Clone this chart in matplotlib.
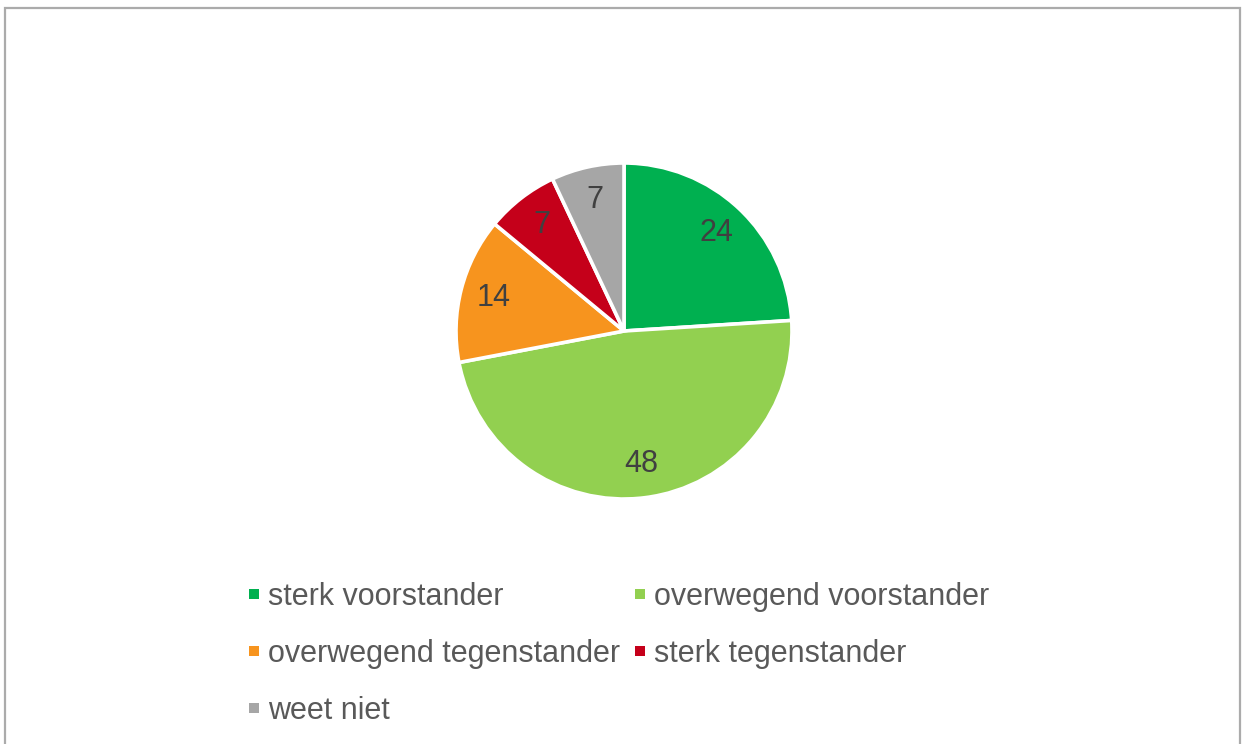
import matplotlib.pyplot as plt
from matplotlib.lines import Line2D
from matplotlib.patches import Rectangle

# data
categories = ["sterk voorstander", "overwegend voorstander",
              "overwegend tegenstander", "sterk tegenstander", "weet niet"]
values = [24, 48, 14, 7, 7]
colors = ["#00B050", "#92D050", "#F7941E", "#C5001A", "#A6A6A6"]

plt.rcParams['font.family'] = ['Liberation Sans', 'DejaVu Sans']

W, H = 1242, 744
fig = plt.figure(figsize=(W / 100, H / 100), dpi=100)

# chart border
fig.patches.append(Rectangle((4.5 / W, -0.05), (1240 - 4.5) / W, 1.05 - 8 / H,
                             transform=fig.transFigure, fill=False,
                             edgecolor="#ABABAB", linewidth=1.6))

# pie: center (624, 331), radius 168 px
cx, cy, r = 624, 331, 168
ax = fig.add_axes([(cx - r) / W, (H - cy - r) / H, 2 * r / W, 2 * r / H])
wedges, texts = ax.pie(values, colors=colors, startangle=90, counterclock=False,
                       labels=[str(v) for v in values], labeldistance=0.8,
                       wedgeprops=dict(edgecolor="white", linewidth=2.6),
                       textprops=dict(color="#404040", fontsize=22))
for t in texts:
    t.set_horizontalalignment("center")
    t.set_verticalalignment("center")
ax.set_xlim(-1, 1)
ax.set_ylim(-1, 1)
ax.set_aspect("equal")
ax.axis("off")

handles = [Line2D([], [], marker="s", linestyle="none", markersize=7.6,
                  markeredgewidth=0, color=c) for c in colors]
# order row-wise in a 2-column legend
order = [0, 2, 4, 1, 3]
leg = fig.legend([handles[i] for i in order], [categories[i] for i in order],
                 ncol=2, loc="upper left", bbox_to_anchor=(247.5 / W, 1 - 582 / H),
                 frameon=False, fontsize=22, handlelength=0.4, handletextpad=0.27,
                 columnspacing=0.45, labelspacing=0.88, borderpad=0, borderaxespad=0)
for t in leg.get_texts():
    t.set_color("#595959")

fig.savefig("out.png", dpi=100, facecolor="white")
